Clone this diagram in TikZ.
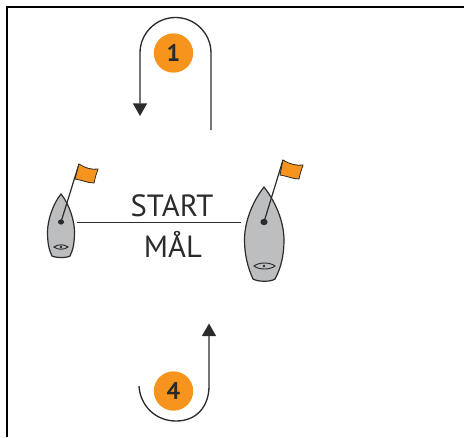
\documentclass[tikz,border=0pt]{standalone}
\usepackage{fontspec}
\setmainfont{PT Sans}
\usetikzlibrary{arrows.meta}
\definecolor{flagor}{HTML}{F7941D}
\definecolor{hull}{HTML}{BDBEC0}
\definecolor{ink}{HTML}{2B2B2B}
\tikzset{
  px/.style={x=0.75pt,y=-0.75pt},
  course/.style={draw=ink,line width=1pt,-{Triangle[length=9.5pt,width=10.5pt]}},
  badge/.style={circle,fill=flagor,minimum size=29.5pt,inner sep=0pt,font=\bfseries\fontsize{18pt}{18pt}\selectfont,text=ink},
  lbl/.style={inner sep=0pt,anchor=base,font=\fontsize{23pt}{23pt}\selectfont,text=ink},
  hullshape/.style={draw=ink,fill=hull,line width=0.9pt},
  flagshape/.style={draw=ink,fill=flagor,line width=0.6pt},
  pole/.style={draw=ink,line width=0.9pt}
}
\begin{document}
\begin{tikzpicture}[px]
\useasboundingbox (0,0) rectangle (464,437);
\draw[black,line width=1.5pt] (464,7) -- (7,7) -- (7,437);
% course 1
\coordinate (c1s) at (211,130);
\coordinate (c1e) at (140,116);
\draw[course] (c1s) -- (211,53) arc[start angle=0,end angle=-180,x radius=35.5,y radius=35.5] -- (c1e);
\node[badge] (b1) at (173.5,53) {1};
% course 4
\coordinate (c4s) at (139,386);
\coordinate (c4e) at (209,323.5);
\draw[course] (c4s) .. controls (140,405) and (155,421) .. (176,421) .. controls (197,421) and (209,406) .. (209,386) -- (c4e);
\node[badge] (b4) at (173.5,391) {4};
% start line
\coordinate (la) at (77,222.3);
\coordinate (lb) at (241,222.3);
\draw[draw=ink,line width=1pt] (la) -- (lb);
\node[lbl] (start) at (172,216) {START};
\node[lbl] (maal) at (173,257) {MÅL};
% left boat
\draw[hullshape] (61,194) .. controls (52,205) and (47.5,222) .. (47.5,232) .. controls (47.5,243) and (49,250) .. (52,256) .. controls (56,258) and (67,258) .. (70,256) .. controls (73,250) and (74.5,243) .. (74.5,232) .. controls (74.5,222) and (70,205) .. (61,194) -- cycle;
\draw[pole] (61,222) -- (79,164);
\fill[ink] (61,222) ellipse[x radius=3,y radius=2.6];
\draw[flagshape] (79,164) .. controls (85,168) and (92,170) .. (98,169) .. controls (96,175) and (95,178) .. (94,183) .. controls (88,183) and (82,180) .. (75,179) -- cycle;
\draw[draw=ink,line width=0.7pt] (54,247) .. controls (58,244) and (64,244) .. (68,247) .. controls (64,250) and (58,250) .. (54,247) -- cycle;
\fill[ink] (61,247) circle[radius=1.3];
% right boat
\draw[hullshape] (264,187) .. controls (250,205) and (244.5,225) .. (244.5,240) .. controls (244.5,255) and (248,268) .. (253,279) .. controls (258,282) and (271,282) .. (275,279) .. controls (281,268) and (284,255) .. (284,240) .. controls (284,225) and (278,205) .. (264,187) -- cycle;
\draw[pole] (264,222) -- (283,160);
\fill[ink] (264,222) ellipse[x radius=3.6,y radius=3.2];
\draw[flagshape] (283,160) .. controls (289,164) and (297,166) .. (303,165) .. controls (301,171) and (300,174) .. (299,179) .. controls (293,179) and (287,176) .. (280,175) -- cycle;
\draw[draw=ink,line width=0.7pt] (254,266) .. controls (259,262) and (270,262) .. (275,266) .. controls (270,270) and (259,270) .. (254,266) -- cycle;
\fill[ink] (264,266) circle[radius=1.4];
\end{tikzpicture}
\end{document}
